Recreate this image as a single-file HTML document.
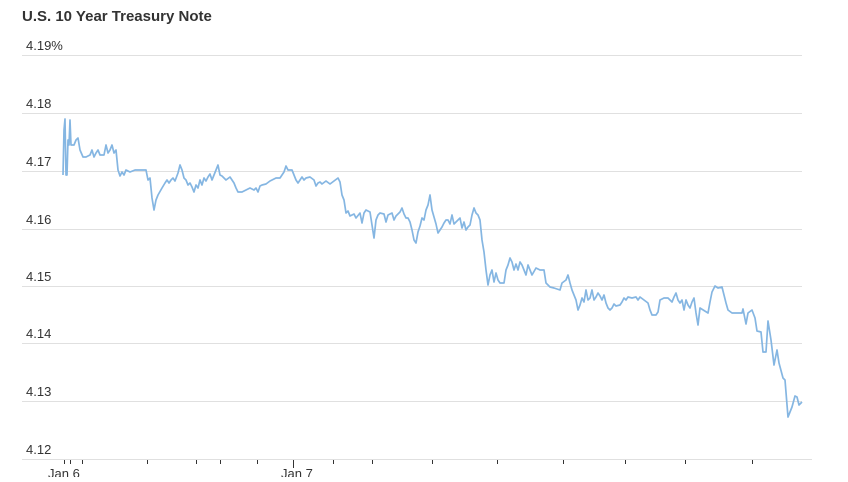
<!DOCTYPE html>
<html><head><meta charset="utf-8"><style>
html,body{margin:0;padding:0;background:#fff;}
body{width:848px;height:477px;overflow:hidden;font-family:"Liberation Sans",sans-serif;}
</style></head><body>
<svg width="848" height="477" viewBox="0 0 848 477" xmlns="http://www.w3.org/2000/svg">
<text x="22" y="21" font-size="15" font-weight="bold" fill="#333" font-family="Liberation Sans, sans-serif">U.S. 10 Year Treasury Note</text>
<g stroke="#e0e0e0" stroke-width="1">
<line x1="22" x2="802" y1="55.5" y2="55.5"/>
<line x1="22" x2="802" y1="113.5" y2="113.5"/>
<line x1="22" x2="802" y1="171.5" y2="171.5"/>
<line x1="22" x2="802" y1="229.5" y2="229.5"/>
<line x1="22" x2="802" y1="286.5" y2="286.5"/>
<line x1="22" x2="802" y1="343.5" y2="343.5"/>
<line x1="22" x2="802" y1="401.5" y2="401.5"/>
<line x1="22" x2="812" y1="459.5" y2="459.5"/>
</g>
<g font-size="13" fill="#333" font-family="Liberation Sans, sans-serif">
<text x="26" y="50">4.19%</text>
<text x="26" y="108">4.18</text>
<text x="26" y="166">4.17</text>
<text x="26" y="224">4.16</text>
<text x="26" y="281">4.15</text>
<text x="26" y="338">4.14</text>
<text x="26" y="396">4.13</text>
<text x="26" y="454">4.12</text>
<text x="48" y="478">Jan 6</text>
<text x="281" y="478">Jan 7</text>
</g>
<g stroke="#333" stroke-width="1">
<line x1="64.5" x2="64.5" y1="460" y2="464"/><line x1="70.5" x2="70.5" y1="460" y2="464"/><line x1="82.5" x2="82.5" y1="460" y2="464"/>
<line x1="147.5" x2="147.5" y1="460" y2="464"/><line x1="196.5" x2="196.5" y1="460" y2="464"/><line x1="220.5" x2="220.5" y1="460" y2="464"/>
<line x1="257.5" x2="257.5" y1="460" y2="464"/><line x1="293.5" x2="293.5" y1="460" y2="468"/><line x1="333.5" x2="333.5" y1="460" y2="464"/>
<line x1="372.5" x2="372.5" y1="460" y2="464"/><line x1="432.5" x2="432.5" y1="460" y2="464"/><line x1="497.5" x2="497.5" y1="460" y2="464"/>
<line x1="563.5" x2="563.5" y1="460" y2="464"/><line x1="625.5" x2="625.5" y1="460" y2="464"/><line x1="685.5" x2="685.5" y1="460" y2="464"/>
<line x1="752.5" x2="752.5" y1="460" y2="464"/>
</g>
<polyline fill="none" stroke="#85b6e2" stroke-width="1.7" stroke-linejoin="round" points="63,175 64,130 65,119 66,175 67,175 68,140 69,145 70,120 71,145 74,145 76,140 78,138 80,150 83,157 86,157 90,155 92,150 94,157 96,153 98,150 100,155 104,155 106,145 108,153 110,150 112,145 114,153 116,150 117,160 118,170 120,176 122,172 124,175 126,170 130,172 135,170 146,170 148,180 150,178 152,198 154,210 156,200 158,195 162,188 165,183 167,180 169,183 171,180 173,178 175,181 178,173 180,165 182,170 184,178 186,180 188,185 190,183 192,187 194,192 196,185 198,188 200,180 202,185 204,178 206,181 208,177 210,174 212,180 214,175 216,170 218,165 220,175 222,176 224,178 226,180 230,177 234,183 236,188 238,192 242,192 246,190 250,188 254,190 256,188 258,192 260,186 262,185 266,184 270,181 272,180 276,178 280,178 284,172 286,166 288,170 292,170 294,175 296,180 298,183 302,177 304,180 306,178 310,177 314,180 316,186 318,183 320,182 322,184 326,181 330,184 334,181 338,178 340,182 342,195 344,200 346,213 348,211 350,216 354,214 356,218 360,213 362,223 364,213 366,210 370,212 372,225 374,238 376,220 378,215 380,213 384,214 386,222 388,215 392,213 394,220 396,216 400,212 402,208 404,214 406,218 408,218 410,222 412,230 414,240 416,243 418,232 420,226 422,218 424,220 426,210 428,205 430,195 432,210 434,217 436,224 438,233 440,230 442,227 444,223 446,220 448,220 450,224 452,215 454,224 456,222 460,218 462,228 464,222 466,230 468,227 470,225 472,215 474,208 476,213 478,215 480,220 482,240 484,252 486,270 488,285 490,275 492,270 494,282 496,273 498,280 500,283 504,283 506,270 508,265 510,258 512,262 514,270 516,264 518,270 520,262 522,265 524,270 526,275 528,265 530,270 532,275 536,268 540,270 544,270 546,283 550,287 554,288 560,290 562,283 566,280 568,275 570,283 572,290 574,295 576,300 578,310 580,305 582,298 584,302 586,290 588,300 590,298 592,290 594,300 596,297 598,293 600,296 602,300 604,295 606,303 608,308 610,310 612,308 614,304 616,306 620,305 622,302 624,298 626,300 628,297 632,298 636,297 638,300 640,297 644,300 648,303 650,310 652,315 656,315 658,312 660,300 664,298 668,298 672,302 674,297 676,293 678,300 680,303 682,300 684,310 686,300 688,305 690,308 692,302 694,298 696,313 698,325 700,308 708,313 710,302 712,292 715,286 718,288 722,287 723,291 726,303 728,310 732,313 742,313 743,309 746,324 748,313 752,310 755,318 757,331 761,332 763,352 766,352 768,321 771,340 774,365 777,350 779,363 783,378 785,380 788,417 792,407 795,396 797,397 799,405 802,402"/>
</svg>
</body></html>
